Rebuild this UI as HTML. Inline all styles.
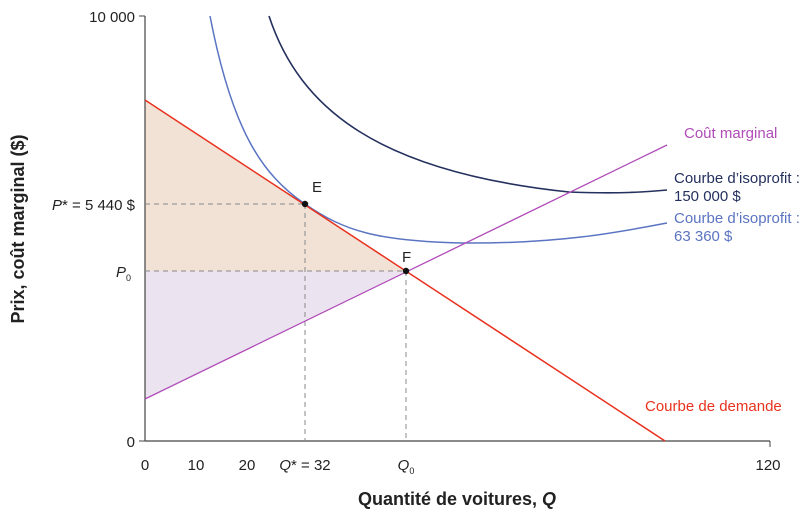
<!DOCTYPE html>
<html><head><meta charset="utf-8"><style>
body{margin:0;background:#fff;}
svg{display:block;font-family:"Liberation Sans",sans-serif;}
</style></head><body>
<svg width="810" height="517" viewBox="0 0 810 517">
<polygon points="145,100 305,204 406,271 145,271" fill="#f2e2d6"/>
<polygon points="145,271 406,271 145,399" fill="#ebe3f0"/>
<line x1="145" y1="16" x2="145" y2="441" stroke="#444" stroke-width="1.2"/>
<line x1="145" y1="441" x2="770" y2="441" stroke="#444" stroke-width="1.2"/>
<line x1="139" y1="16" x2="145" y2="16" stroke="#444"/>
<line x1="139" y1="441" x2="145" y2="441" stroke="#444"/>
<line x1="770" y1="441" x2="770" y2="447" stroke="#444"/>
<g stroke="#888" stroke-dasharray="5,4" stroke-width="1">
<line x1="145" y1="204" x2="305" y2="204"/><line x1="305" y1="204" x2="305" y2="441"/>
<line x1="145" y1="271" x2="406" y2="271"/><line x1="406" y1="271" x2="406" y2="441"/>
</g>
<path d="M210,16 C232,130 262,175 305,204 C345,232 380,241 461,243 C560,244 620,232 667,223" fill="none" stroke="#5b74c2" stroke-width="1.5"/>
<path d="M269,16 C300,110 380,172 569,192 C620,194 645,192 667,190" fill="none" stroke="#24305e" stroke-width="1.6"/>
<line x1="145" y1="100" x2="665" y2="441" stroke="#e8321e" stroke-width="1.5"/>
<line x1="145" y1="399" x2="667" y2="145" stroke="#b04cb8" stroke-width="1.3"/>
<circle cx="305" cy="204" r="3.2" fill="#111"/>
<circle cx="406" cy="271" r="3.2" fill="#111"/>
<g font-size="15" fill="#222">
<text x="312" y="192">E</text><text x="402" y="262">F</text>
<text x="135" y="22" text-anchor="end">10 000</text>
<text x="135" y="447" text-anchor="end">0</text>
<text x="135" y="210" text-anchor="end"><tspan font-style="italic">P</tspan>* = 5 440 $</text>
<text x="116" y="277" font-style="italic">P<tspan font-size="9" font-style="normal" dy="4">0</tspan></text>
<text x="145" y="470" text-anchor="middle">0</text>
<text x="196" y="470" text-anchor="middle">10</text>
<text x="247" y="470" text-anchor="middle">20</text>
<text x="305" y="470" text-anchor="middle"><tspan font-style="italic">Q</tspan>* = 32</text>
<text x="406" y="470" text-anchor="middle" font-style="italic">Q<tspan font-size="9" font-style="normal" dy="4">0</tspan></text>
<text x="768" y="470" text-anchor="middle">120</text>
</g>
<g font-size="15">
<text x="684" y="138" fill="#b04cb8">Coût marginal</text>
<text x="674" y="183" fill="#24305e">Courbe d’isoprofit :</text>
<text x="674" y="201" fill="#24305e">150 000 $</text>
<text x="674" y="223" fill="#5b74c2">Courbe d’isoprofit :</text>
<text x="674" y="241" fill="#5b74c2">63 360 $</text>
<text x="645" y="411" fill="#e8321e">Courbe de demande</text>
</g>
<text x="457" y="505" text-anchor="middle" font-size="18" font-weight="bold" fill="#222">Quantité de voitures, <tspan font-style="italic">Q</tspan></text>
<text transform="translate(24,229) rotate(-90)" text-anchor="middle" font-size="18" font-weight="bold" fill="#222">Prix, coût marginal ($)</text>
</svg>
</body></html>
